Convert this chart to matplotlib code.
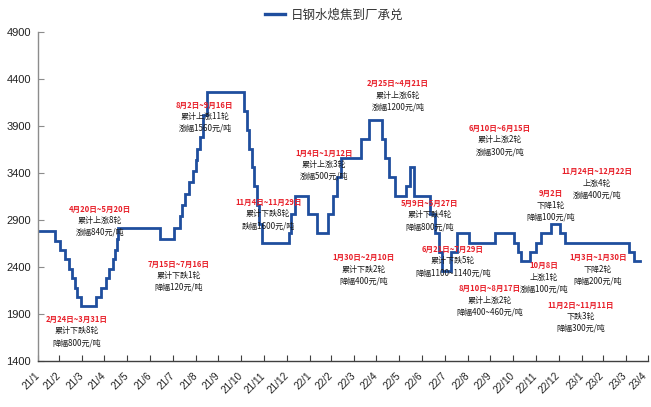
import matplotlib
matplotlib.use("Agg")
import matplotlib.pyplot as plt
import matplotlib.transforms as mtransforms
import pandas as pd
from matplotlib.lines import Line2D

# Daily wet-quenched coke price delivered to Rizhao Steel (acceptance), 元/吨
# Each entry is the effective date of an adjustment and the new price.
change_dates = [
    "2021-02-01", "2021-02-24", "2021-03-03", "2021-03-09", "2021-03-15",
    "2021-03-18", "2021-03-23", "2021-03-26", "2021-03-31",
    "2021-04-20", "2021-04-27", "2021-05-03", "2021-05-07", "2021-05-13",
    "2021-05-16", "2021-05-18", "2021-05-20",
    "2021-07-15",
    "2021-08-02", "2021-08-10", "2021-08-14", "2021-08-18", "2021-08-23",
    "2021-08-28", "2021-09-01", "2021-09-03", "2021-09-06", "2021-09-11",
    "2021-09-16",
    "2021-11-04", "2021-11-08", "2021-11-11", "2021-11-15", "2021-11-18",
    "2021-11-22", "2021-11-25", "2021-11-29",
    "2022-01-04", "2022-01-07", "2022-01-12",
    "2022-01-30", "2022-02-10",
    "2022-02-25", "2022-03-04", "2022-03-10", "2022-03-15", "2022-04-10",
    "2022-04-21",
    "2022-05-09", "2022-05-13", "2022-05-18", "2022-05-26",
    "2022-06-10", "2022-06-15",
    "2022-06-21", "2022-07-12", "2022-07-19", "2022-07-24", "2022-07-29",
    "2022-08-10", "2022-08-17",
    "2022-09-02",
    "2022-10-08",
    "2022-11-02", "2022-11-07", "2022-11-11",
    "2022-11-24", "2022-12-01", "2022-12-09", "2022-12-22",
    "2023-01-03", "2023-01-10",
    "2023-04-05", "2023-04-12", "2023-04-20",
]
prices = [
    2780, 2680, 2580, 2480, 2380,
    2280, 2180, 2080, 1980,
    2080, 2180, 2280, 2380, 2480,
    2580, 2700, 2820,
    2700,
    2820, 2940, 3060, 3180, 3300,
    3420, 3540, 3660, 3780, 4020,
    4260,
    4060, 3860, 3660, 3460, 3260,
    3060, 2860, 2660,
    2760, 2960, 3160,
    2960, 2760,
    2960, 3160, 3360, 3560, 3760,
    3960,
    3760, 3560, 3360, 3160,
    3260, 3460,
    3160, 2960, 2760, 2560, 2360,
    2560, 2760,
    2660,
    2760,
    2660, 2560, 2460,
    2560, 2660, 2760, 2860,
    2760, 2660,
    2560, 2460, 2460,
]

series_name = "日钢水熄焦到厂承兑"

month_starts = ["2021-02-01", "2023-05-01"]
month_labels = [
    "21/1", "21/2", "21/3", "21/4", "21/5", "21/6", "21/7", "21/8", "21/9",
    "21/10", "21/11", "21/12", "22/1", "22/2", "22/3", "22/4", "22/5", "22/6",
    "22/7", "22/8", "22/9", "22/10", "22/11", "22/12", "23/1", "23/2", "23/3",
    "23/4",
]
y_ticks = [1400, 1900, 2400, 2900, 3400, 3900, 4400, 4900]

# Callouts describing each round of adjustments
note_ranges = [
    "2月24日~3月31日", "4月20日~5月20日", "7月15日~7月16日", "8月2日~9月16日",
    "11月4日~11月29日", "1月4日~1月12日", "1月30日~2月10日", "2月25日~4月21日",
    "5月9日~5月27日", "6月10日~6月15日", "6月21日~7月29日", "8月10日~8月17日",
    "9月2日", "10月8日", "11月2日~11月11日", "11月24日~12月22日",
    "1月3日~1月30日",
]
note_counts = [
    "累计下跌8轮", "累计上涨8轮", "累计下跌1轮", "累计上涨11轮",
    "累计下跌8轮", "累计上涨3轮", "累计下跌2轮", "累计上涨6轮",
    "累计下跌4轮", "累计上涨2轮", "累计下跌5轮", "累计上涨2轮",
    "下降1轮", "上涨1轮", "下跌3轮", "上涨4轮",
    "下降2轮",
]
note_amounts = [
    "降幅800元/吨", "涨幅840元/吨", "降幅120元/吨", "涨幅1560元/吨",
    "跌幅1600元/吨", "涨幅500元/吨", "降幅400元/吨", "涨幅1200元/吨",
    "降幅800元/吨", "涨幅300元/吨", "降幅1100~1140元/吨", "降幅400~460元/吨",
    "降幅100元/吨", "涨幅100元/吨", "降幅300元/吨", "涨幅400元/吨",
    "降幅200元/吨",
]
note_dates = [
    "2021-03-25", "2021-04-25", "2021-08-09", "2021-09-13",
    "2021-12-07", "2022-02-20", "2022-04-14", "2022-05-30",
    "2022-07-12", "2022-10-14", "2022-08-12", "2022-09-30",
    "2022-12-21", "2022-12-12", "2023-01-31", "2023-02-22",
    "2023-02-23",
]
note_prices = [
    1844, 3017, 2432, 4123,
    3088, 3613, 2499, 4352,
    3078, 3876, 2588, 2173,
    3177, 2411, 1996, 3414,
    2499,
]

LINE_COLOR = "#1F4E9E"
RED = "#E8202A"
CJK = ["Noto Sans CJK SC", "DejaVu Sans"]
LATIN = ["Liberation Sans", "DejaVu Sans"]

fig = plt.figure(figsize=(6.51, 4.07), dpi=100)
ax = fig.add_axes([38 / 651, 1 - 361 / 407, 610 / 651, 329 / 407])

x = pd.to_datetime(change_dates)
ax.step(x, prices, where="post", color=LINE_COLOR, lw=2.0,
        solid_joinstyle="miter")

ax.set_xlim(pd.Timestamp(month_starts[0]), pd.Timestamp(month_starts[1]))
ax.set_ylim(y_ticks[0], y_ticks[-1])

ticks = pd.date_range(month_starts[0], month_starts[1], freq="MS")
ax.set_xticks(ticks)
ax.set_xticklabels(month_labels, rotation=45, ha="right", va="top",
                   rotation_mode="anchor", family=LATIN, fontsize=7.2,
                   color="#222222")
ax.set_yticks(y_ticks)
ax.set_yticklabels([str(v) for v in y_ticks], family=LATIN, fontsize=8,
                   color="#222222")
ax.tick_params(axis="x", direction="in", length=4, width=0.8,
               color="#404040", pad=7)
ax.tick_params(axis="y", direction="in", length=4, width=0.8,
               color="#8c8c8c", pad=5)

# nudge the slanted month labels a little to the left of their ticks,
# the last one a bit more so it stays inside the canvas
xticks_objs = ax.xaxis.get_major_ticks()
for i, tk in enumerate(xticks_objs):
    dx = -6.0 if i == len(xticks_objs) - 1 else -3.5
    shift = mtransforms.ScaledTranslation(dx / 100, 0, fig.dpi_scale_trans)
    tk.label1.set_transform(tk.label1.get_transform() + shift)

for side in ("top", "right"):
    ax.spines[side].set_visible(False)
ax.spines["left"].set_color("#8c8c8c")
ax.spines["left"].set_linewidth(1.0)
ax.spines["bottom"].set_color("#404040")
ax.spines["bottom"].set_linewidth(1.0)

for rng, cnt, amt, d, p in zip(note_ranges, note_counts, note_amounts,
                                note_dates, note_prices):
    xy = (pd.Timestamp(d), p)
    ax.annotate(rng, xy=xy, xytext=(0, 0), textcoords="offset points",
                ha="center", va="center", fontsize=5.5, fontweight="bold",
                color=RED, family=CJK)
    ax.annotate(cnt, xy=xy, xytext=(0, -8.4), textcoords="offset points",
                ha="center", va="center", fontsize=5.8, color="#1a1a1a",
                family=CJK)
    ax.annotate(amt, xy=xy, xytext=(0, -16.8), textcoords="offset points",
                ha="center", va="center", fontsize=5.8, color="#1a1a1a",
                family=CJK)

handle = Line2D([], [], color=LINE_COLOR, lw=2.4)
fig.legend([handle], [series_name], loc="center",
           bbox_to_anchor=(334 / 651, 1 - 15 / 407), frameon=False,
           prop={"family": CJK, "size": 9}, handlelength=1.6,
           handletextpad=0.5, labelcolor="#333333")

fig.savefig("out.png", dpi=100)
